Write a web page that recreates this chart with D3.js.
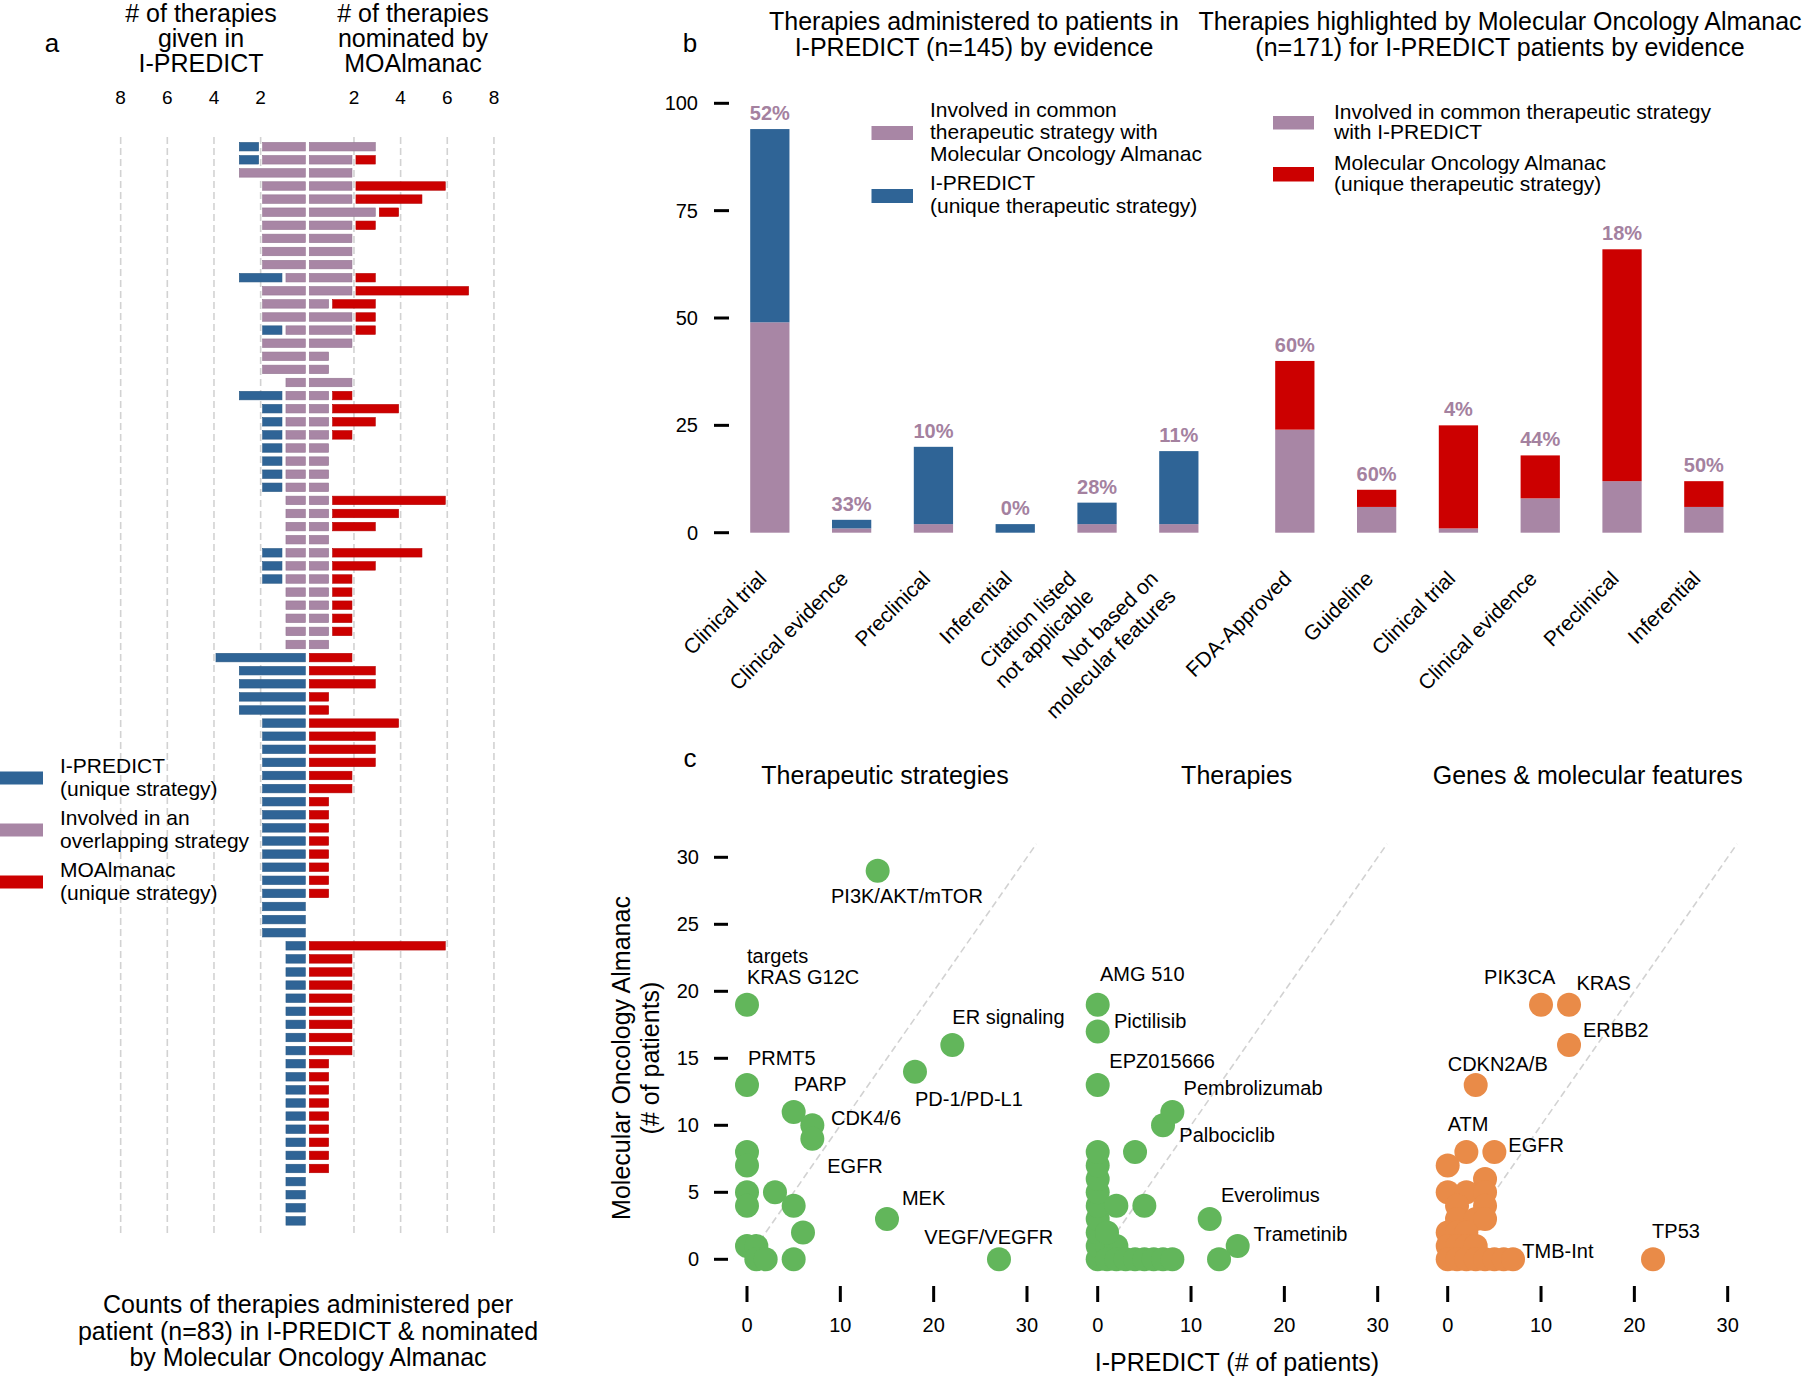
<!DOCTYPE html>
<html><head><meta charset="utf-8">
<script src="https://cdn.jsdelivr.net/npm/d3@7"></script>
<style>
body{margin:0;background:#fff}
svg{display:block;font-family:"Liberation Sans",Arial,Helvetica,sans-serif}
</style>
</head><body>
<svg id="chart" width="1803" height="1376"></svg>
<script>
// ---------------- DATA ----------------
// Panel a: per-patient counts (83 patients, top to bottom)
const leftOverlap = [
 2,2,3,2,2,2,2,2,2,2,
 1,2,2,2,1,2,2,2,1,1,
 1,1,1,1,1,1,1,1,1,1,
 1,1,1,1,1,1,1,1,1,0,
 0,0,0,0,0,0,0,0,0,0,
 0,0,0,0,0,0,0,0,0,0,
 0,0,0,0,0,0,0,0,0,0,
 0,0,0,0,0,0,0,0,0,0,
 0,0,0];
const leftUnique = [
 1,1,0,0,0,0,0,0,0,0,
 2,0,0,0,1,0,0,0,0,2,
 1,1,1,1,1,1,1,0,0,0,
 0,1,1,1,0,0,0,0,0,4,
 3,3,3,3,2,2,2,2,2,2,
 2,2,2,2,2,2,2,2,2,2,
 2,1,1,1,1,1,1,1,1,1,
 1,1,1,1,1,1,1,1,1,1,
 1,1,1];
const rightOverlap = [
 3,2,2,2,2,3,2,2,2,2,
 2,2,1,2,2,2,1,1,2,1,
 1,1,1,1,1,1,1,1,1,1,
 1,1,1,1,1,1,1,1,1,0,
 0,0,0,0,0,0,0,0,0,0,
 0,0,0,0,0,0,0,0,0,0,
 0,0,0,0,0,0,0,0,0,0,
 0,0,0,0,0,0,0,0,0,0,
 0,0,0];
const rightUnique = [
 0,1,0,4,3,1,1,0,0,0,
 1,5,2,1,1,0,0,0,0,1,
 3,2,1,0,0,0,0,5,3,2,
 0,4,2,1,1,1,1,1,0,2,
 3,3,1,1,4,3,3,3,2,2,
 1,1,1,1,1,1,1,1,0,0,
 0,6,2,2,2,2,2,2,2,2,
 1,1,1,1,1,1,1,1,1,0,
 0,0,0];
const aTicks = [2,4,6,8];

// Panel b
const evidenceIP = ["Clinical trial","Clinical evidence","Preclinical","Inferential","Citation listed\nnot applicable","Not based on\nmolecular features"];
const ipOverlap = [49,1,2,0,2,2];
const ipUnique  = [45,2,18,2,5,17];
const ipPct = ["52%","33%","10%","0%","28%","11%"];
const evidenceMOA = ["FDA-Approved","Guideline","Clinical trial ","Clinical evidence ","Preclinical ","Inferential "];
const moaOverlap = [24,6,1,8,12,6];
const moaUnique  = [16,4,24,10,54,6];
const moaPct = ["60%","60%","4%","44%","18%","50%"];
const bTicks = [0,25,50,75,100];

// Panel c
const stratX = [14,0,22,18,0,5,7,7,0,0,0,3,0,5,6,15,0,1,1,2,5,27];
const stratY = [29,19,16,14,13,11,10,9,8,7,5,5,4,4,2,3,1,1,0,0,0,0];
const stratLabels = ["PI3K/AKT/mTOR","targets\nKRAS G12C","ER signaling","PD-1/PD-L1","PRMT5","PARP","CDK4/6","EGFR","MEK","VEGF/VEGFR"];
const stratLabelX = [9,0,22,18,0.1,5,9,8.6,16.6,19];
const stratLabelY = [27.1,22.6,18.1,12,15.05,13.1,10.55,7,4.6,1.65];

const therX = [0,0,0,0,0,0,0,0,0,0,0,0,1,2,1,2,5,4,7,8,12,15,13,1,2,3,4,5,6,7,8];
const therY = [0,1,2,3,4,5,6,7,8,13,17,19,1,1,2,4,4,8,10,11,3,1,0,0,0,0,0,0,0,0,0];
const therLabels = ["AMG 510","Pictilisib","EPZ015666","Pembrolizumab","Palbociclib","Everolimus","Trametinib"];
const therLabelX = [0.25,1.75,1.25,9.2,8.75,13.2,16.7];
const therLabelY = [21.3,17.8,14.8,12.75,9.3,4.8,1.9];

const geneX = [10,13,13,3,2,5,0,4,0,2,4,1,4,1,3,4,0,1,2,0,1,2,3,0,1,2,3,4,5,6,7,22];
const geneY = [19,19,16,13,8,8,7,6,5,5,5,4,4,3,3,3,2,2,2,1,1,1,1,0,0,0,0,0,0,0,0,0];
const geneLabels = ["PIK3CA","KRAS","ERBB2","CDKN2A/B","ATM","EGFR","TMB-Int","TP53"];
const geneLabelX = [3.9,13.8,14.5,0,0,6.5,8.0,21.9];
const geneLabelY = [21.1,20.6,17.1,14.6,10.1,8.5,0.65,2.1];

const cTicks = [0,5,10,15,20,25,30];
const cxTicks = [0,10,20,30];
const cTitles = ["Therapeutic strategies","Therapies","Genes & molecular features"];

// ---------------- STYLE ----------------
const BLUE = "#2f6496", PURPLE = "#a886a5", RED = "#cc0000";
const PCT = "#a4819f", GREEN = "#62b65b", ORANGE = "#e98b48";
const GRID = "#d2d2d2";

const svg = d3.select("#chart");
svg.append("rect").attr("width",1803).attr("height",1376).attr("fill","#fff");

function multiText(g, lines, x, y, size, anchor, lh){
  const t = g.append("text").attr("x",x).attr("y",y).attr("font-size",size)
    .attr("text-anchor",anchor||"start").attr("fill","#000");
  lines.forEach((l,i)=>t.append("tspan").attr("x",x).attr("dy", i===0?0:lh).text(l));
  return t;
}

// ================= PANEL A =================
const gA = svg.append("g");
const nRows = leftOverlap.length;
const yA = d3.scaleBand().domain(d3.range(nRows)).range([140.15, 140.15 + nRows*13.1]);
const xL = d3.scaleLinear().domain([0,8]).range([307.3, 307.3 - 8*23.33]);
const xR = d3.scaleLinear().domain([0,8]).range([307.3, 307.3 + 8*23.33]);

aTicks.forEach(t=>{
  [xL(t), xR(t)].forEach(x=>{
    gA.append("line").attr("x1",x).attr("x2",x).attr("y1",137).attr("y2",1233)
      .attr("stroke",GRID).attr("stroke-width",1.6).attr("stroke-dasharray","7,4");
  });
  gA.append("text").attr("x",xL(t)).attr("y",103.5).attr("text-anchor","middle").attr("font-size",19).text(t);
  gA.append("text").attr("x",xR(t)).attr("y",103.5).attr("text-anchor","middle").attr("font-size",19).text(t);
});

const bh = 8.5, bo = (yA.bandwidth()-bh)/2;
function segRect(scale, a, b, i, color){
  if (b<=a) return;
  const x1 = scale(a), x2 = scale(b);
  gA.append("rect").attr("x", Math.min(x1,x2)+2).attr("width", Math.abs(x2-x1)-4)
    .attr("y", yA(i)+bo).attr("height", bh).attr("fill", color)
    .attr("stroke", d3.color(color).darker(0.35)).attr("stroke-width",0.6);
}
d3.range(nRows).forEach(i=>{
  segRect(xL, 0, leftOverlap[i], i, PURPLE);
  segRect(xL, leftOverlap[i], leftOverlap[i]+leftUnique[i], i, BLUE);
  segRect(xR, 0, rightOverlap[i], i, PURPLE);
  segRect(xR, rightOverlap[i], rightOverlap[i]+rightUnique[i], i, RED);
});

gA.append("text").attr("x",52).attr("y",52).attr("font-size",26).attr("text-anchor","middle").text("a");
multiText(gA, ["# of therapies","given in","I-PREDICT"], 201, 21.5, 25, "middle", 25);
multiText(gA, ["# of therapies","nominated by","MOAlmanac"], 413, 21.5, 25, "middle", 25);
multiText(gA, ["Counts of therapies administered per","patient (n=83) in I-PREDICT & nominated","by Molecular Oncology Almanac"], 308, 1313, 25, "middle", 26.5);

const legA = [
  {c:BLUE, t:["I-PREDICT","(unique strategy)"], y:778},
  {c:PURPLE, t:["Involved in an","overlapping strategy"], y:830},
  {c:RED, t:["MOAlmanac","(unique strategy)"], y:882}
];
legA.forEach(d=>{
  gA.append("rect").attr("x",0).attr("y",d.y-6.5).attr("width",43).attr("height",13).attr("fill",d.c);
  multiText(gA, d.t, 60, d.y-5, 21, "start", 23);
});

// ================= PANEL B =================
const gB = svg.append("g");
const yB = d3.scaleLinear().domain([0,100]).range([532.7, 103.3]);
const xB1 = d3.scaleBand().domain(evidenceIP).range([709.3, 709.3+81.8*6.48]).paddingInner(0.52).paddingOuter(0.5);
const xB2 = d3.scaleBand().domain(evidenceMOA).range([1234.3, 1234.3+81.8*6.48]).paddingInner(0.52).paddingOuter(0.5);

bTicks.forEach(t=>{
  gB.append("line").attr("x1",714).attr("x2",729).attr("y1",yB(t)).attr("y2",yB(t)).attr("stroke","#000").attr("stroke-width",3);
  gB.append("text").attr("x",698).attr("y",yB(t)+7).attr("text-anchor","end").attr("font-size",20).text(t);
});

function barsB(scale, cats, ov, un, pct, uColor){
  cats.forEach((c,i)=>{
    const x = scale(c), w = scale.bandwidth();
    gB.append("rect").attr("x",x).attr("width",w).attr("y",yB(ov[i])).attr("height",yB(0)-yB(ov[i])).attr("fill",PURPLE);
    gB.append("rect").attr("x",x).attr("width",w).attr("y",yB(ov[i]+un[i])).attr("height",yB(ov[i])-yB(ov[i]+un[i])).attr("fill",uColor);
    gB.append("text").attr("x",x+w/2).attr("y",yB(ov[i]+un[i])-9).attr("text-anchor","middle")
      .attr("font-size",20).attr("font-weight","bold").attr("fill",PCT).text(pct[i]);
    const lines = c.trim().split("\n"), n = lines.length, lh = 25;
    const cx = x + w/2 - 2 - (n-1)*lh/Math.SQRT2;
    const t = gB.append("text").attr("transform",`translate(${cx},580) rotate(-45)`)
      .attr("text-anchor","end").attr("font-size",21);
    lines.forEach((l,k)=>t.append("tspan").attr("x",0).attr("y",k*lh).text(l));
  });
}
barsB(xB1, evidenceIP, ipOverlap, ipUnique, ipPct, BLUE);
barsB(xB2, evidenceMOA, moaOverlap, moaUnique, moaPct, RED);

gB.append("text").attr("x",690).attr("y",52).attr("font-size",26).attr("text-anchor","middle").text("b");
multiText(gB, ["Therapies administered to patients in","I-PREDICT (n=145) by evidence"], 974, 30, 25, "middle", 26);
multiText(gB, ["Therapies highlighted by Molecular Oncology Almanac","(n=171) for I-PREDICT patients by evidence"], 1500, 30, 25, "middle", 26);

// legends
gB.append("rect").attr("x",871.5).attr("y",126).attr("width",41.5).attr("height",14).attr("fill",PURPLE);
multiText(gB, ["Involved in common","therapeutic strategy with","Molecular Oncology Almanac"], 930, 116.5, 21, "start", 22);
gB.append("rect").attr("x",871.5).attr("y",189).attr("width",41.5).attr("height",14).attr("fill",BLUE);
multiText(gB, ["I-PREDICT","(unique therapeutic strategy)"], 930, 190, 21, "start", 23);

gB.append("rect").attr("x",1273).attr("y",116).attr("width",41).attr("height",13.5).attr("fill",PURPLE);
multiText(gB, ["Involved in common therapeutic strategy","with I-PREDICT"], 1334, 118.5, 21, "start", 20.5);
gB.append("rect").attr("x",1273).attr("y",167).attr("width",41).attr("height",14.5).attr("fill",RED);
multiText(gB, ["Molecular Oncology Almanac","(unique therapeutic strategy)"], 1334, 170, 21, "start", 21);

// ================= PANEL C =================
const gC = svg.append("g");
const yC = d3.scaleLinear().domain([0,30]).range([1259.3, 1259.3-30*13.4]);
const panelX0 = [747, 1097.7, 1447.7];
const xCs = panelX0.map(x0=>d3.scaleLinear().domain([0,30]).range([x0, x0+30*9.333]));

cTicks.forEach(t=>{
  gC.append("line").attr("x1",714).attr("x2",728).attr("y1",yC(t)).attr("y2",yC(t)).attr("stroke","#000").attr("stroke-width",3);
  gC.append("text").attr("x",699).attr("y",yC(t)+7).attr("text-anchor","end").attr("font-size",20).text(t);
});

const sets = [
  {x:stratX, y:stratY, lab:stratLabels, lx:stratLabelX, ly:stratLabelY, c:GREEN},
  {x:therX, y:therY, lab:therLabels, lx:therLabelX, ly:therLabelY, c:GREEN},
  {x:geneX, y:geneY, lab:geneLabels, lx:geneLabelX, ly:geneLabelY, c:ORANGE}
];
sets.forEach((s,k)=>{
  const xs = xCs[k];
  gC.append("line").attr("x1",xs(0)).attr("y1",yC(0)).attr("x2",xs(31)).attr("y2",yC(31))
    .attr("stroke",GRID).attr("stroke-width",1.6).attr("stroke-dasharray","7,4");
  cxTicks.forEach(t=>{
    gC.append("line").attr("x1",xs(t)).attr("x2",xs(t)).attr("y1",1286).attr("y2",1302).attr("stroke","#000").attr("stroke-width",3);
    gC.append("text").attr("x",xs(t)).attr("y",1332).attr("text-anchor","middle").attr("font-size",20).text(t);
  });
  s.x.forEach((v,i)=>{
    gC.append("circle").attr("cx",xs(v)).attr("cy",yC(s.y[i])).attr("r",12).attr("fill",s.c);
  });
  s.lab.forEach((l,i)=>{
    const lines = l.split("\n");
    const t = gC.append("text").attr("x",xs(s.lx[i])).attr("y",yC(s.ly[i])+7).attr("font-size",20);
    lines.forEach((ln,j)=>t.append("tspan").attr("x",xs(s.lx[i])).attr("dy", j===0?0:21).text(ln));
  });
  gC.append("text").attr("x",xs(0)+ (k===0?138:k===1?139:140)).attr("y",784).attr("text-anchor","middle").attr("font-size",25).text(cTitles[k]);
});

gC.append("text").attr("x",690).attr("y",767).attr("font-size",26).attr("text-anchor","middle").text("c");
const yl = gC.append("text").attr("transform","translate(630,1058) rotate(-90)").attr("text-anchor","middle").attr("font-size",25);
yl.append("tspan").attr("x",0).attr("y",0).text("Molecular Oncology Almanac");
yl.append("tspan").attr("x",0).attr("y",28.6).text("(# of patients)");
gC.append("text").attr("x",1237).attr("y",1371).attr("text-anchor","middle").attr("font-size",25).text("I-PREDICT (# of patients)");
</script>
</body></html>
